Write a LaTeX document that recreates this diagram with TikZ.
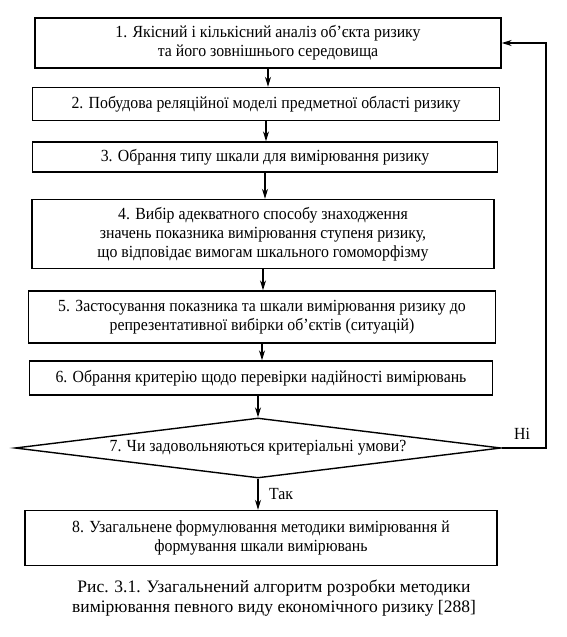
\documentclass[tikz,border=0pt]{standalone}
\usepackage{fontspec}
\setmainfont{Liberation Serif}
\newfontfamily\narrowserif[FakeStretch=0.93]{Liberation Serif}
\usetikzlibrary{shapes.geometric,arrows.meta}

\tikzstyle{block}=[rectangle,
    draw,
    line width=1.4pt,
    align=center,
    inner sep=0pt,
    font=\narrowserif\fontsize{17}{19}\selectfont]
\tikzstyle{decision}=[diamond,
    draw,
    line width=1.4pt,
    aspect=8.4,
    inner sep=0pt,
    font=\narrowserif\fontsize{17}{19}\selectfont]
\tikzstyle{answer}=[font=\narrowserif\fontsize{17}{19}\selectfont]

\begin{document}
\begin{tikzpicture}[x=1pt,y=-1pt,>={Stealth[length=10pt,width=6pt]}]
    \useasboundingbox (0,0) rectangle (567,637);
    \node (step1) [block, minimum width=466, minimum height=50] at (268,43)
        {1. Якісний і кількісний аналіз об’єкта ризику\\та його зовнішнього середовища};
    \node (step2) [block, minimum width=467, minimum height=33] at (266,104)
        {2. Побудова реляційної моделі предметної області ризику};
    \node (step3) [block, minimum width=465, minimum height=30] at (265,157)
        {3. Обрання типу шкали для вимірювання ризику};
    \node (step4) [block, minimum width=462, minimum height=69] at (263,234)
        {4. Вибір адекватного способу знаходження\\значень показника вимірювання ступеня ризику,\\що відповідає вимогам шкального гомоморфізму};
    \node (step5) [block, minimum width=467, minimum height=52] at (262,317)
        {5. Застосування показника та шкали вимірювання ризику до\\репрезентативної вибірки об’єктів (ситуацій)};
    \node (step6) [block, minimum width=463, minimum height=34] at (261,378)
        {6. Обрання критерію щодо перевірки надійності вимірювань};
    \node (step7) [decision, minimum width=486, minimum height=60] at (258,448)
        {7. Чи задовольняються критеріальні умови?};
    \node (step8) [block, minimum width=472, minimum height=55] at (261,538)
        {8. Узагальнене формулювання методики вимірювання й\\формування шкали вимірювань};
    \node (no) [answer] at (522,434) {Ні};
    \node (yes) [answer] at (281,494) {Так};
    \node (caption) [align=center, font=\fontsize{17.5}{20}\selectfont] at (274,598)
        {Рис. 3.1. Узагальнений алгоритм розробки методики\\вимірювання певного виду економічного ризику [288]};
    \coordinate (turn) at (546,0);
    \draw [line width=1.2pt,->] (step1.south) -- (step1.south |- step2.north);
    \draw [line width=1.2pt,->] (step2.south) -- (step2.south |- step3.north);
    \draw [line width=1.2pt,->] (step3.south) -- (step3.south |- step4.north);
    \draw [line width=1.2pt,->] (step4.south) -- (step4.south |- step5.north);
    \draw [line width=1.2pt,->] (step5.south) -- (step5.south |- step6.north);
    \draw [line width=1.2pt,->] (step6.south -| step7.north) -- (step7.north);
    \draw [line width=1.2pt,->] (step7.south) -- (step7.south |- step8.north);
    \draw [line width=1.2pt,->] (step7.east) -- (step7.east -| turn)
        -- (turn |- step1.east) -- (step1.east);
\end{tikzpicture}
\end{document}
